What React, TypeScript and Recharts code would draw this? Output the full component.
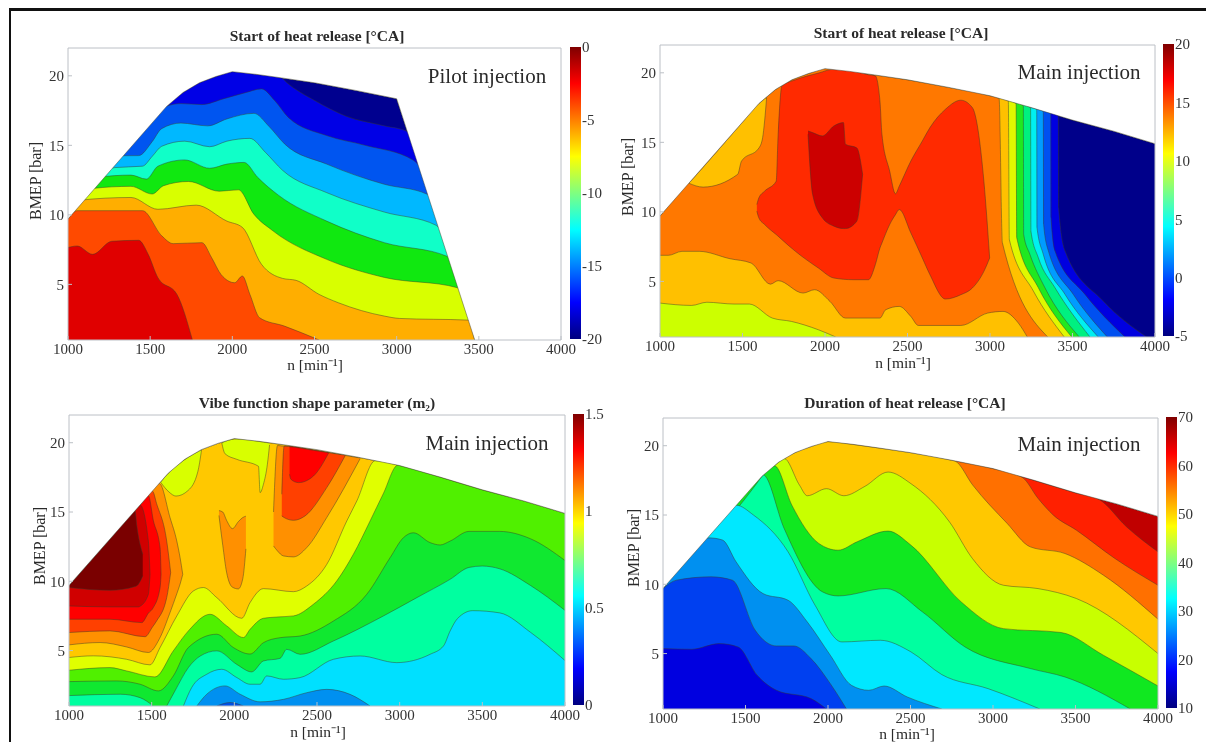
import { Area, AreaChart, Bar, BarChart, XAxis, YAxis } from "recharts"

type Pt = number[]

const nTicks = [1000, 1500, 2000, 2500, 3000, 3500, 4000]
const bmepTicks = [5, 10, 15, 20]
const FONT = '"Liberation Serif", serif'

// upper limit of the engine map
const fullLoad: Pt[] = [[1000, 9.7], [1600, 17.8], [1700, 18.8], [1800, 19.5], [1900, 19.95], [2000, 20.3], [2150, 20.1], [2300, 19.85], [2500, 19.5], [2750, 18.95], [3000, 18.35]]
const pilotEdge: Pt[] = [...fullLoad, [3475, 1]]
const mainEdge: Pt[] = [...fullLoad, [3250, 17.5], [3500, 16.6], [3750, 15.8], [4000, 14.9]]

// Pilot injection, start of heat release
const pilot1: Pt[] = [[2329, 19.54], [2504, 18.2], [2691, 17.1], [2925, 16.4], [3065, 16.0]]
const pilot2: Pt[] = [[1593, 17.8], [1687, 18.0], [1815, 17.93], [1944, 18.34], [2084, 18.8], [2177, 19.06], [2259, 18.2], [2341, 17.0], [2574, 15.7], [2808, 15.0], [3100, 13.94]]
const pilot3: Pt[] = [[1336, 14.25], [1430, 14.26], [1512, 15.26], [1570, 16.2], [1687, 16.6], [1850, 16.4], [1967, 16.9], [2131, 17.3], [2224, 16.35], [2318, 15.1], [2574, 13.65], [2925, 12.2], [3182, 11.5]]
const pilot4: Pt[] = [[1285, 13.4], [1453, 13.5], [1512, 14.2], [1570, 14.93], [1710, 15.3], [1862, 14.9], [1967, 15.3], [2107, 15.5], [2201, 14.5], [2306, 13.2], [2574, 11.6], [2925, 10.2], [3240, 9.25]]
const pilot5: Pt[] = [[1185, 12.7], [1383, 12.86], [1477, 12.57], [1547, 13.5], [1710, 13.95], [1862, 13.35], [1967, 13.65], [2072, 13.77], [2154, 12.7], [2282, 11.4], [2574, 9.55], [2925, 8.0], [3310, 7.0]]
const pilot6: Pt[] = [[1150, 11.9], [1383, 12.05], [1512, 11.5], [1582, 12.1], [1733, 12.4], [1920, 11.7], [2037, 11.8], [2131, 10.05], [2247, 8.85], [2574, 6.8], [2925, 5.5], [3369, 4.76]]
const pilot7: Pt[] = [[1068, 11.05], [1383, 11.25], [1547, 10.4], [1780, 10.7], [1967, 9.55], [2061, 9.1], [2177, 6.45], [2306, 5.43], [2388, 5.29], [2528, 4.28], [2645, 3.68], [2925, 2.72], [3018, 2.55], [3434, 2.43]]
const pilot8: Pt[] = [[1056, 10.3], [1453, 10.3], [1570, 8.5], [1640, 7.93], [1815, 8.0], [1874, 6.92], [1932, 5.7], [2014, 5.12], [2061, 5.6], [2107, 4.28], [2166, 2.6], [2317, 2.0], [2528, 1]]
const pilot9: Pt[] = [[1000, 7.65], [1056, 7.76], [1150, 7.16], [1266, 8.1], [1430, 8.17], [1488, 7.16], [1547, 5.48], [1663, 4.28], [1757, 1]]
const pilotColors = ["#00008f", "#0000e6", "#0055f0", "#00b8ff", "#10ffc8", "#10e810", "#d8ff00", "#ffae00", "#ff4a00", "#e00000"]

// Main injection, start of heat release
const startRight9: Pt[] = [[3414, 16.92], [3416, 10.3], [3455, 7.18], [3687, 3.58], [3949, 1]]
const startRight8: Pt[] = [[3368, 17.08], [3370, 9.58], [3394, 7.18], [3576, 4.06], [3818, 1]]
const startRight7: Pt[] = [[3323, 17.23], [3325, 9.1], [3354, 7.18], [3505, 4.06], [3711, 1]]
const startRight6: Pt[] = [[3283, 17.37], [3285, 8.86], [3323, 6.94], [3455, 4.06], [3656, 1]]
const startRight5: Pt[] = [[3246, 17.5], [3248, 8.62], [3293, 6.7], [3394, 4.54], [3606, 1]]
const startRight4: Pt[] = [[3202, 17.65], [3204, 8.38], [3242, 6.94], [3333, 4.54], [3541, 1]]
const startRight3: Pt[] = [[3158, 17.8], [3162, 8.14], [3293, 4.54], [3495, 1]]
const startRight2: Pt[] = [[3111, 17.97], [3117, 8.02], [3263, 4.3], [3450, 1]]
const startRight1: Pt[] = [[3055, 18.16], [3075, 7.78], [3350, 1]]
const startRightColors = ["#00008a", "#0000e0", "#0050f0", "#009cff", "#00f0f0", "#00f080", "#20e820", "#e0f800", "#ffc000", "#ff7800"]
const startLow1: Pt[] = [[1000, 6.875], [1051, 6.875], [1133, 7.16], [1238, 7.16], [1424, 6.63], [1552, 6.32], [1669, 4.8], [1716, 5.05], [1867, 4.16], [1937, 4.4], [2030, 3.56], [2124, 2.36], [2333, 2.36], [2368, 2.96], [2450, 3.2], [2520, 2.48], [2566, 1.83], [2823, 1.83], [2986, 2.72], [3079, 2.84], [3172, 2.0], [3226, 1]]
const startLow2: Pt[] = [[1000, 3.44], [1191, 3.27], [1284, 3.5], [1448, 3.37], [1541, 3.37], [1681, 2.36], [1797, 2.12], [1960, 1.52], [2065, 1]]
const startCorner: Pt[] = [[1175, 12.06, 12.06], [1261, 11.78, 13.2], [1471, 12.7, 16.06], [1494, 13.65, 16.37], [1600, 14.6, 17.8], [1622, 15.34, 18.0], [1634, 16.54, 18.15], [1646, 18.2, 18.2]]
const startRidge: Pt[] = [[1587, 10.05, 10.53], [1599, 9.57, 11.0], [1634, 9.09, 11.49], [1704, 8.37, 12.2], [1716, 8.25, 15.58], [1739, 8.0, 19.06], [1821, 7.16, 19.5], [1960, 5.96, 19.98], [2054, 5.24, 20.26], [2170, 5.12, 20.14], [2263, 5.12, 19.86], [2305, 6.2, 19.78], [2333, 7.4, 17.98], [2345, 7.76, 15.58], [2392, 9.09, 12.93], [2427, 9.8, 11.3], [2450, 10.17, 11.85], [2520, 8.49, 13.65], [2590, 6.68, 15.1], [2636, 5.48, 16.06], [2730, 3.73, 17.38], [2823, 4.04, 18.03], [2893, 4.52, 17.5], [2963, 5.72, 12.2], [2998, 6.68, 6.68]]
const startPeak: Pt[] = [[1897, 15.58, 15.82], [1925, 11.25, 15.7], [1984, 9.57, 15.46], [2054, 8.97, 16.18], [2112, 8.8, 16.42], [2124, 8.8, 14.86], [2193, 9.33, 14.6], [2228, 12.7, 12.7]]

// Main injection, Vibe shape parameter
const vibeK1: Pt[] = [[1000, 4.5], [1147, 4.62], [1349, 4.37], [1490, 3.97], [1551, 5.22], [1652, 7.5], [1752, 9.3], [1813, 9.55], [1894, 8.82], [2045, 7.33], [2095, 8.46], [2176, 9.47], [2357, 9.25], [2438, 9.66], [2559, 11.22], [2680, 14.35], [2741, 15.8], [2852, 18.7]]
const vibeK2: Pt[] = [[1000, 3.58], [1248, 3.77], [1349, 3.53], [1520, 3.1], [1631, 4.98], [1722, 6.42], [1853, 7.62], [1954, 6.78], [2055, 5.94], [2095, 6.53], [2176, 7.33], [2256, 7.42], [2357, 7.5], [2478, 8.34], [2619, 10.02], [2720, 11.95], [2821, 14.35], [2900, 16.3], [2989, 18.38]]
const vibeK3: Pt[] = [[1000, 2.76], [1288, 2.81], [1430, 2.57], [1541, 2.09], [1631, 3.17], [1722, 5.22], [1894, 6.18], [1994, 5.22], [2095, 4.75], [2176, 5.57], [2277, 5.93], [2398, 6.05], [2599, 7.13], [2801, 9.06], [2942, 11.7], [3023, 13.15], [3083, 13.5], [3184, 12.79], [3245, 12.62], [3305, 12.9], [3419, 13.6], [3605, 13.6], [3791, 13.07], [4000, 11.5]]
const vibeEdgeLow: Pt[] = [[1000, 1.75], [1310, 1.85], [1430, 1.6], [1510, 1]]
const vibeK4: Pt[] = [[1591, 1], [1641, 2.09], [1722, 3.77], [1793, 4.6], [1894, 4.98], [2015, 4.0], [2105, 3.46], [2176, 4.25], [2277, 4.44], [2317, 5.09], [2398, 4.73], [2599, 5.69], [2902, 7.5], [3104, 8.82], [3305, 10.14], [3420, 11.0], [3500, 11.1], [3605, 10.9], [3791, 9.7], [4000, 7.9]]
const vibeK5: Pt[] = [[1692, 1], [1742, 2.33], [1833, 3.29], [1924, 3.65], [2015, 3.05], [2095, 2.57], [2156, 2.57], [2196, 3.17], [2297, 2.93], [2398, 3.05], [2599, 4.37], [2761, 4.61], [2982, 4.13], [3184, 4.73], [3265, 5.33], [3305, 6.41], [3349, 7.3], [3442, 7.88], [3605, 7.72], [3791, 6.32], [4000, 4.28]]
const vibeK6: Pt[] = [[1773, 1], [1833, 1.85], [1944, 2.45], [2035, 1.85], [2156, 1.3], [2297, 1.48], [2438, 1.96], [2559, 2.2], [2700, 1.84], [2821, 1]]
const vibeK7: Pt[] = [[1894, 1], [1974, 1.25], [2055, 1]]
const vibeHump1: Pt[] = [[1000, 5.41, 9.7], [1188, 5.58, 12.24], [1349, 5.26, 14.4], [1480, 4.86, 16.18], [1547, 5.85, 17.05], [1611, 7.74, 14.6], [1652, 9.1, 12.9], [1672, 9.8, 11.7], [1688, 10.5, 10.5]]
const vibeHump2: Pt[] = [[1000, 6.3, 9.7], [1248, 6.42, 13.05], [1460, 6.0, 15.9], [1505, 6.7, 16.5], [1530, 7.14, 15.6], [1591, 8.82, 12.9], [1615, 10.63, 10.63]]
const vibeHump3: Pt[] = [[1000, 7.26, 9.7], [1248, 7.26, 13.05], [1440, 7.02, 15.64], [1480, 7.7, 16.18], [1510, 8.1, 14.4], [1551, 9.55, 12.4], [1557, 10.5, 10.5]]
const vibeHump4: Pt[] = [[1000, 8.22, 9.7], [1248, 8.15, 13.05], [1420, 8.15, 15.37], [1430, 8.2, 15.5], [1480, 9.06, 12.9], [1490, 10.5, 10.5]]
const vibeHump5: Pt[] = [[1000, 9.55, 9.7], [1248, 9.35, 13.05], [1399, 9.62, 15.09], [1410, 9.67, 14.0], [1446, 10.39, 11.95]]
const vibeLime1: Pt[] = [[1554, 17.15, 17.15], [1605, 16.44, 17.85], [1647, 16.15, 18.3], [1721, 16.56, 18.95], [1779, 17.9, 19.35], [1802, 19.5, 19.5]]
const vibeLime2: Pt[] = [[1924, 19.98, 19.98], [1944, 19.2, 20.1], [2015, 18.8, 20.27], [2146, 18.3, 20.1], [2156, 16.4, 20.08], [2176, 17.0, 20.05], [2200, 18.45, 20.0], [2213, 19.84, 19.98]]
const vibeCentre: Pt[] = [[1907, 14.75, 15.1], [1930, 12.6, 15.0], [1953, 10.66, 14.4], [1989, 9.57, 13.8], [2024, 9.45, 14.3], [2051, 10.18, 14.6], [2070, 12.34, 14.7]]
const vibeTop1: Pt[] = [[2237, 12.55, 15.0], [2261, 12.19, 19.8], [2297, 11.83, 19.75], [2358, 11.76, 19.7], [2438, 12.43, 19.55], [2559, 14.6, 19.3], [2761, 18.85, 18.9]]
const vibeTop2: Pt[] = [[2287, 14.72, 16.28], [2301, 14.6, 19.75], [2358, 14.4, 19.7], [2428, 14.72, 19.57], [2559, 16.76, 19.3], [2670, 19.05, 19.1]]
const vibeTop3: Pt[] = [[2334, 17.72, 19.7], [2342, 17.36, 19.7], [2388, 17.12, 19.63], [2479, 17.6, 19.45], [2570, 19.25, 19.28]]

// Main injection, duration of heat release
const durD1: Pt[] = [[3646, 16.1], [3809, 14.15], [4000, 12.34]]
const durD2: Pt[] = [[3179, 17.7], [3273, 16.2], [3366, 14.99], [3506, 13.9], [3739, 11.86], [4000, 9.93]]
const durD3: Pt[] = [[2771, 18.89], [2877, 17.16], [3086, 14.39], [3226, 12.7], [3436, 12.22], [3669, 10.66], [4000, 7.48]]
const durD4: Pt[] = [[1734, 19.08], [1827, 17.16], [1874, 16.39], [1991, 16.9], [2096, 16.39], [2224, 17.07], [2364, 18.1], [2503, 17.26], [2737, 14.49], [2876, 11.85], [3063, 9.93], [3273, 9.69], [3506, 8.97], [4000, 5.0]]
const durD5: Pt[] = [[1676, 18.55], [1781, 15.71], [1944, 12.95], [2061, 12.46], [2177, 13.07], [2364, 13.84], [2503, 12.82], [2807, 8.73], [3063, 6.8], [3413, 6.52], [3669, 4.88], [4000, 2.66]]
const durD6: Pt[] = [[1606, 17.9], [1734, 14.03], [1967, 9.45], [2061, 9.16], [2352, 9.69], [2573, 8.0], [2830, 5.48], [3226, 3.92], [3436, 3.31], [3832, 1]]
const durD7: Pt[] = [[1443, 15.71], [1548, 15.0], [1758, 12.34], [1921, 8.5], [2084, 5.84], [2317, 5.96], [2503, 5.12], [2690, 3.48], [2970, 2.47], [3284, 1]]
const durD8: Pt[] = [[1280, 13.35], [1361, 13.19], [1443, 11.62], [1606, 9.33], [1758, 8.85], [1874, 7.29], [2014, 4.88], [2142, 2.71], [2247, 2.35], [2340, 2.66], [2480, 1.87], [2690, 1]]
const durD9: Pt[] = [[1082, 10.3], [1291, 10.54], [1420, 10.3], [1559, 6.68], [1688, 5.55], [1793, 5.55], [1897, 4.64], [2014, 2.83], [2112, 1]]
const durD10: Pt[] = [[1000, 5.36], [1175, 5.31], [1338, 5.72], [1455, 5.48], [1571, 3.43], [1688, 2.35], [1897, 1.75], [1991, 1]]
const durColors = ["#c00000", "#ff2000", "#ff7000", "#ffc800", "#c8ff00", "#10e820", "#00ffa0", "#00e8ff", "#0090f0", "#0040f0", "#0000e0"]

const jetOffsets = [0, 0.125, 0.375, 0.625, 0.875, 1]
const jetColors = ["#7f0000", "#ff0000", "#ffff00", "#00ffff", "#0000ff", "#00007f"]

// contour goes on along the map limit until it meets its own ends
function under(contour: Pt[], edge: Pt[], color: string) {
  const first = contour[0]
  const last = contour[contour.length - 1]
  const before = first[1] > 1 ? edge.filter((p) => p[0] < first[0]) : []
  const after = last[1] > 1 ? edge.filter((p) => p[0] > last[0]) : []
  return { color, curve: "monotoneX", data: [...before, ...contour, ...after].map((p) => ({ n: p[0], v: p[1] })) }
}

function island(points: Pt[], color: string) {
  return { color, curve: "monotoneX", data: points.map((p) => ({ n: p[0], v: [p[1], p[2]] })) }
}

// whole map, straight pieces so the limit keeps its corners
function base(edge: Pt[], color: string) {
  return { color, curve: "linear", data: edge.map((p) => ({ n: p[0], v: p[1] })) }
}

// white above the limit, smoothed contours may stick out a little there, then the limit line itself
function closing(edge: Pt[]) {
  const last = edge[edge.length - 1]
  const points = last[0] < 4000 ? [...edge, [4000, 1]] : edge
  return [
    { color: "#ffffff", curve: "linear", noLine: true, data: points.map((p) => ({ n: p[0], v: [p[1], 22] })) },
    { color: "none", curve: "linear", data: edge.map((p) => ({ n: p[0], v: p[1] })) },
  ]
}

const pilotLayers = [
  base(pilotEdge, pilotColors[0]),
  ...[pilot1, pilot2, pilot3, pilot4, pilot5, pilot6, pilot7, pilot8, pilot9].map((c, i) => under(c, pilotEdge, pilotColors[i + 1])),
  ...closing(pilotEdge),
]

const startLayers = [
  base(mainEdge, startRightColors[0]),
  ...[startRight9, startRight8, startRight7, startRight6, startRight5, startRight4, startRight3, startRight2, startRight1].map((c, i) =>
    under(c, mainEdge, startRightColors[i + 1]),
  ),
  island(startCorner, "#ffc000"),
  under(startLow1, mainEdge, "#ffc000"),
  under(startLow2, mainEdge, "#ccff00"),
  island(startRidge, "#ff2a00"),
  island(startPeak, "#cc0000"),
  ...closing(mainEdge),
]

const vibeLayers = [
  base(mainEdge, "#ffc800"),
  under(vibeK1, mainEdge, "#e0ff00"),
  under(vibeK2, mainEdge, "#50f000"),
  under(vibeK3, mainEdge, "#10e830"),
  under(vibeEdgeLow, mainEdge, "#00ffa0"),
  under(vibeK4, mainEdge, "#00ffa0"),
  under(vibeK5, mainEdge, "#00e0ff"),
  under(vibeK6, mainEdge, "#0090f0"),
  under(vibeK7, mainEdge, "#0050e8"),
  island(vibeHump1, "#ff9000"),
  island(vibeHump2, "#ff4000"),
  island(vibeHump3, "#ff0000"),
  island(vibeHump4, "#d00000"),
  island(vibeHump5, "#7a0000"),
  island(vibeLime1, "#d8ff00"),
  island(vibeLime2, "#d8ff00"),
  island(vibeCentre, "#ff9000"),
  island(vibeTop1, "#ff9000"),
  island(vibeTop2, "#ff4000"),
  island(vibeTop3, "#ff0000"),
  ...closing(mainEdge),
]

const durLayers = [
  base(mainEdge, durColors[0]),
  ...[durD1, durD2, durD3, durD4, durD5, durD6, durD7, durD8, durD9, durD10].map((c, i) => under(c, mainEdge, durColors[i + 1])),
  ...closing(mainEdge),
]

const panels = [
  {
    id: "a", layers: pilotLayers, x: 68, y: 47, w: 493, h: 292, barX: 570, barMin: -20, barMax: 0, barTicks: [-20, -15, -10, -5, 0],
    title: "Start of heat release [°CA]", titleX: 317, titleY: 36, note: "Pilot injection", noteX: 487, noteY: 76, nX: 315, nY: 365, bmepX: 36, bmepY: 181,
  },
  {
    id: "b", layers: startLayers, x: 660, y: 44, w: 495, h: 292, barX: 1163, barMin: -5, barMax: 20, barTicks: [-5, 0, 5, 10, 15, 20],
    title: "Start of heat release [°CA]", titleX: 901, titleY: 33, note: "Main injection", noteX: 1079, noteY: 72, nX: 903, nY: 363, bmepX: 628, bmepY: 177,
  },
  {
    id: "c", layers: vibeLayers, x: 69, y: 414, w: 496, h: 291, barX: 573, barMin: 0, barMax: 1.5, barTicks: [0, 0.5, 1, 1.5],
    title: "Vibe function shape parameter (m₂)", titleX: 317, titleY: 403, note: "Main injection", noteX: 487, noteY: 443, nX: 318, nY: 732, bmepX: 40, bmepY: 546,
  },
  {
    id: "d", layers: durLayers, x: 663, y: 417, w: 495, h: 291, barX: 1166, barMin: 10, barMax: 70, barTicks: [10, 20, 30, 40, 50, 60, 70],
    title: "Duration of heat release [°CA]", titleX: 905, titleY: 403, note: "Main injection", noteX: 1079, noteY: 444, nX: 907, nY: 734, bmepX: 634, bmepY: 548,
  },
]

function Caption({ x, y, size, bold, rotate, children }: any) {
  return (
    <div
      style={{
        position: "absolute",
        left: x,
        top: y,
        transform: `translate(-50%, -50%)${rotate ? ` rotate(${rotate}deg)` : ""}`,
        fontFamily: FONT,
        fontSize: size,
        fontWeight: bold ? 700 : 400,
        color: "#2a2a2a",
        whiteSpace: "nowrap",
        lineHeight: 1,
      }}
    >
      {children}
    </div>
  )
}

const tickStyle = { fill: "#333", fontSize: 15, fontFamily: FONT }
const BOX = "#bcc0c6"

function Panel({ p }: any) {
  const axisLeft = 60
  const axisBottom = 36
  const pad = 24
  return (
    <>
      <div style={{ position: "absolute", left: p.x - axisLeft, top: p.y - 2 }}>
        <AreaChart
          width={p.w + axisLeft + pad + 1}
          height={p.h + axisBottom + 3}
          margin={{ top: 2, right: pad, bottom: 0, left: 0 }}
        >
          <XAxis
            dataKey="n"
            type="number"
            domain={[1000, 4000]}
            ticks={nTicks}
            height={axisBottom}
            allowDataOverflow
            stroke={BOX}
            tickSize={-4}
            tickMargin={7}
            tick={tickStyle}
            interval={0}
          />
          {p.layers.map((layer: any, i: number) => (
            <Area
              key={i}
              data={layer.data}
              dataKey="v"
              type={layer.curve}
              baseValue={1}
              fill={layer.color}
              fillOpacity={1}
              stroke={layer.noLine ? "none" : "#3a3a2a"}
              strokeOpacity={0.65}
              strokeWidth={0.7}
              dot={false}
              activeDot={false}
              isAnimationActive={false}
            />
          ))}
          <XAxis xAxisId="top" orientation="top" type="number" domain={[1000, 4000]} ticks={nTicks} height={1} stroke={BOX} tickSize={-4} tick={false} />
          <YAxis
            type="number"
            domain={[1, 22]}
            ticks={bmepTicks}
            width={axisLeft}
            allowDataOverflow
            stroke={BOX}
            tickSize={-4}
            tickMargin={8}
            tick={tickStyle}
            interval={0}
          />
          <YAxis yAxisId="right" orientation="right" type="number" domain={[1, 22]} ticks={bmepTicks} width={1} stroke={BOX} tickSize={-4} tick={false} />
        </AreaChart>
      </div>
      <div style={{ position: "absolute", left: p.barX, top: p.y - 10 }}>
        <BarChart
          width={11 + 36}
          height={p.h + 20}
          data={[{ c: "scale", range: [p.barMin, p.barMax] }]}
          margin={{ top: 10, right: 0, bottom: 10, left: 0 }}
          barCategoryGap={0}
        >
          <defs>
            <linearGradient id={`jet-${p.id}`} x1="0" y1="0" x2="0" y2="1">
              {jetOffsets.map((o, i) => (
                <stop key={o} offset={o} stopColor={jetColors[i]} />
              ))}
            </linearGradient>
          </defs>
          <XAxis dataKey="c" hide />
          <YAxis
            orientation="right"
            type="number"
            domain={[p.barMin, p.barMax]}
            ticks={p.barTicks}
            width={36}
            axisLine={false}
            tickLine={false}
            tickSize={0}
            tickMargin={1}
            tick={tickStyle}
            interval={0}
          />
          <Bar dataKey="range" fill={`url(#jet-${p.id})`} isAnimationActive={false} />
        </BarChart>
      </div>
      <Caption x={p.titleX} y={p.titleY} size={15.5} bold>{p.title}</Caption>
      <Caption x={p.noteX} y={p.noteY} size={21}>{p.note}</Caption>
      <Caption x={p.nX} y={p.nY} size={15.5}>n [min⁻¹]</Caption>
      <Caption x={p.bmepX} y={p.bmepY} size={16} rotate={-90}>BMEP [bar]</Caption>
    </>
  )
}

export default function App() {
  return (
    <div style={{ position: "absolute", left: 0, top: 0, width: 1206, height: 742, background: "#fff", overflow: "hidden", filter: "blur(0.6px)" }}>
      <div style={{ position: "absolute", left: 8.5, top: 8, right: 0, height: 3, background: "#111" }} />
      <div style={{ position: "absolute", left: 8.5, top: 8, bottom: 0, width: 2.5, background: "#111" }} />
      {panels.map((p) => (
        <Panel key={p.id} p={p} />
      ))}
    </div>
  )
}
